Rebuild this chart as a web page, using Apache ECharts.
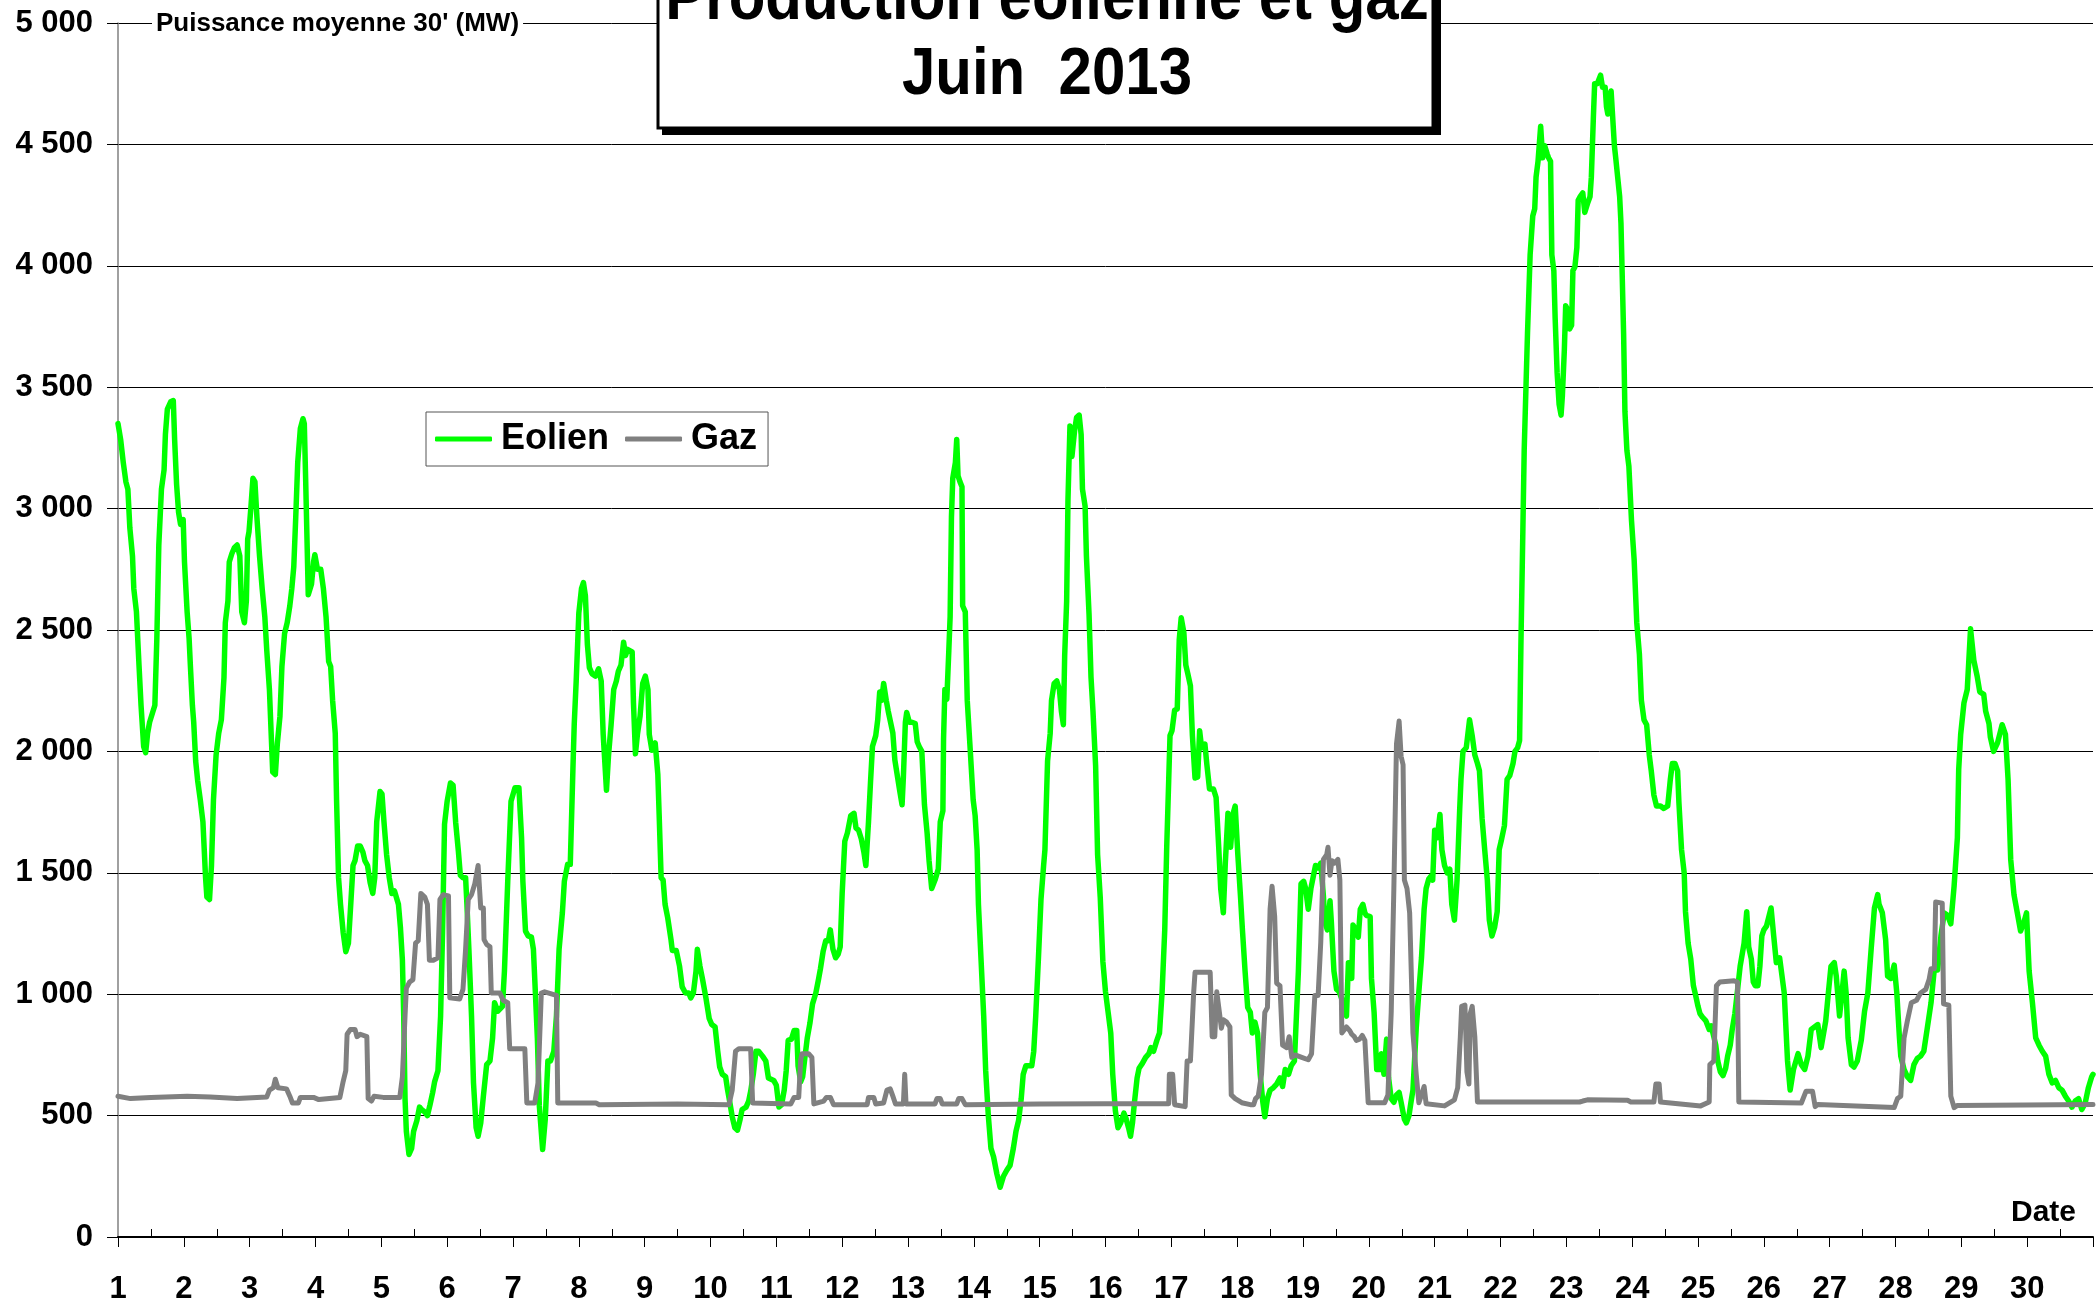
<!DOCTYPE html>
<html>
<head>
<meta charset="utf-8">
<script src="https://cdn.jsdelivr.net/npm/echarts@6/dist/echarts.min.js"></script>
<style>
html,body{margin:0;padding:0;background:#fff;}
#chart{width:2096px;height:1305px;}
</style>
</head>
<body>
<div id="chart"></div>
<script>
// ---- Data (day of month as decimal, MW) ----
const seriesNames = ['Eolien', 'Gaz'];
const dayTicks = [1,2,3,4,5,6,7,8,9,10,11,12,13,14,15,16,17,18,19,20,21,22,23,24,25,26,27,28,29,30];
const yTicks = [0,500,1000,1500,2000,2500,3000,3500,4000,4500,5000];

const eolien = [[1.0,3350],[1.04,3285],[1.08,3190],[1.12,3110],[1.15,3080],[1.18,2920],[1.22,2805],[1.24,2670],[1.28,2575],[1.32,2350],[1.35,2190],[1.39,2020],[1.42,1995],[1.45,2075],[1.48,2120],[1.52,2155],[1.56,2190],[1.59,2465],[1.62,2850],[1.66,3080],[1.70,3160],[1.72,3305],[1.75,3410],[1.80,3440],[1.84,3445],[1.86,3285],[1.89,3100],[1.92,2985],[1.95,2935],[1.99,2955],[2.01,2780],[2.05,2575],[2.08,2465],[2.10,2350],[2.13,2190],[2.15,2120],[2.18,1960],[2.21,1880],[2.25,1800],[2.29,1710],[2.33,1480],[2.35,1400],[2.39,1390],[2.42,1530],[2.45,1800],[2.49,1985],[2.53,2075],[2.57,2130],[2.61,2305],[2.63,2530],[2.67,2620],[2.69,2780],[2.73,2815],[2.77,2840],[2.81,2850],[2.85,2805],[2.88,2575],[2.92,2530],[2.95,2620],[2.97,2875],[2.99,2905],[3.02,3010],[3.05,3125],[3.08,3110],[3.11,2965],[3.15,2805],[3.19,2670],[3.23,2555],[3.26,2415],[3.30,2255],[3.33,2050],[3.35,1915],[3.39,1905],[3.42,2030],[3.46,2145],[3.49,2350],[3.53,2485],[3.57,2530],[3.61,2600],[3.64,2670],[3.67,2760],[3.70,2965],[3.73,3190],[3.77,3330],[3.81,3370],[3.83,3350],[3.85,3125],[3.89,2645],[3.94,2690],[3.97,2780],[3.99,2810],[4.03,2750],[4.08,2750],[4.12,2670],[4.16,2555],[4.20,2370],[4.23,2350],[4.26,2210],[4.30,2075],[4.32,1800],[4.35,1480],[4.38,1370],[4.42,1255],[4.46,1175],[4.50,1210],[4.53,1345],[4.57,1530],[4.60,1550],[4.64,1610],[4.68,1610],[4.72,1585],[4.75,1550],[4.79,1530],[4.83,1460],[4.87,1415],[4.90,1480],[4.93,1710],[4.98,1835],[5.01,1825],[5.04,1710],[5.08,1575],[5.12,1480],[5.16,1415],[5.20,1425],[5.23,1425],[5.26,1370],[5.29,1275],[5.32,1140],[5.34,910],[5.36,570],[5.38,435],[5.42,340],[5.46,365],[5.49,435],[5.54,480],[5.58,535],[5.61,525],[5.66,515],[5.70,500],[5.74,545],[5.78,595],[5.81,640],[5.86,685],[5.90,910],[5.93,1255],[5.96,1700],[6.0,1795],[6.05,1870],[6.09,1860],[6.13,1705],[6.17,1590],[6.20,1490],[6.24,1480],[6.28,1480],[6.30,1370],[6.33,1185],[6.37,910],[6.40,635],[6.44,450],[6.47,415],[6.51,470],[6.55,580],[6.60,710],[6.65,725],[6.69,820],[6.72,965],[6.77,930],[6.84,950],[6.87,1095],[6.92,1465],[6.97,1795],[7.03,1850],[7.09,1850],[7.13,1645],[7.15,1465],[7.19,1260],[7.23,1240],[7.28,1235],[7.31,1185],[7.34,1005],[7.37,820],[7.40,540],[7.45,360],[7.49,485],[7.53,725],[7.57,725],[7.62,765],[7.66,910],[7.70,1185],[7.75,1335],[7.78,1465],[7.83,1535],[7.87,1535],[7.91,1925],[7.93,2110],[7.96,2290],[8.0,2570],[8.04,2670],[8.07,2695],[8.10,2640],[8.13,2440],[8.16,2345],[8.20,2320],[8.25,2310],[8.30,2340],[8.34,2290],[8.37,2070],[8.42,1840],[8.45,1980],[8.49,2110],[8.53,2255],[8.57,2290],[8.60,2330],[8.64,2355],[8.68,2450],[8.71,2395],[8.74,2420],[8.81,2410],[8.83,2200],[8.86,1990],[8.89,2070],[8.93,2145],[8.97,2280],[9.01,2310],[9.05,2255],[9.07,2070],[9.11,2005],[9.16,2035],[9.20,1905],[9.22,1740],[9.25,1480],[9.28,1470],[9.31,1370],[9.35,1315],[9.40,1225],[9.42,1180],[9.48,1180],[9.53,1115],[9.57,1030],[9.62,1005],[9.67,1005],[9.70,985],[9.74,1005],[9.78,1095],[9.80,1185],[9.84,1115],[9.88,1060],[9.93,985],[9.98,900],[10.02,875],[10.07,865],[10.11,765],[10.14,700],[10.18,670],[10.23,660],[10.26,605],[10.29,560],[10.33,495],[10.37,450],[10.41,440],[10.45,485],[10.48,525],[10.54,535],[10.58,560],[10.61,600],[10.65,670],[10.69,765],[10.73,765],[10.79,745],[10.84,725],[10.88,655],[10.91,650],[10.96,645],[11.0,625],[11.04,535],[11.08,545],[11.12,605],[11.15,685],[11.18,810],[11.23,815],[11.27,850],[11.31,850],[11.33,705],[11.37,640],[11.40,660],[11.43,730],[11.47,820],[11.51,880],[11.55,960],[11.60,1005],[11.64,1060],[11.67,1105],[11.71,1175],[11.75,1220],[11.79,1220],[11.82,1265],[11.86,1185],[11.90,1150],[11.94,1165],[11.97,1195],[12.0,1415],[12.04,1630],[12.08,1665],[12.13,1735],[12.18,1745],[12.21,1685],[12.25,1675],[12.29,1640],[12.33,1585],[12.36,1530],[12.40,1710],[12.43,1870],[12.46,2020],[12.51,2065],[12.54,2130],[12.57,2245],[12.60,2210],[12.63,2280],[12.67,2210],[12.70,2165],[12.73,2165],[12.77,2075],[12.80,1965],[12.83,1960],[12.87,1845],[12.91,1780],[12.93,1895],[12.96,2120],[12.98,2160],[13.02,2120],[13.06,2120],[13.11,2115],[13.14,2040],[13.17,2020],[13.21,2000],[13.25,1780],[13.29,1665],[13.32,1550],[13.36,1435],[13.41,1470],[13.46,1515],[13.49,1710],[13.53,1755],[13.54,2050],[13.56,2255],[13.59,2215],[13.62,2415],[13.64,2555],[13.66,2965],[13.68,3125],[13.72,3190],[13.74,3285],[13.76,3135],[13.79,3110],[13.82,3090],[13.83,2600],[13.87,2575],[13.90,2210],[13.94,2030],[13.99,1800],[14.02,1735],[14.05,1595],[14.07,1370],[14.11,1140],[14.15,910],[14.18,685],[14.22,500],[14.26,365],[14.30,330],[14.35,260],[14.40,205],[14.45,250],[14.50,275],[14.55,295],[14.60,365],[14.64,435],[14.68,480],[14.72,570],[14.75,670],[14.79,705],[14.83,705],[14.88,705],[14.91,765],[14.94,910],[14.98,1140],[15.02,1390],[15.06,1530],[15.08,1595],[15.12,1960],[15.16,2075],[15.18,2210],[15.22,2280],[15.26,2290],[15.30,2255],[15.33,2165],[15.36,2110],[15.38,2395],[15.41,2620],[15.43,3035],[15.46,3340],[15.49,3215],[15.53,3320],[15.56,3375],[15.60,3385],[15.63,3305],[15.65,3080],[15.69,3010],[15.71,2805],[15.75,2565],[15.78,2305],[15.81,2165],[15.85,1940],[15.88,1575],[15.92,1400],[15.96,1135],[16.0,1010],[16.04,925],[16.08,840],[16.11,670],[16.15,520],[16.19,450],[16.23,470],[16.28,510],[16.31,490],[16.35,450],[16.38,415],[16.41,470],[16.44,555],[16.48,655],[16.51,695],[16.56,715],[16.61,740],[16.66,755],[16.69,780],[16.73,765],[16.78,810],[16.82,840],[16.86,1010],[16.90,1265],[16.93,1605],[16.96,1880],[16.98,2065],[17.01,2085],[17.05,2170],[17.09,2175],[17.12,2460],[17.15,2550],[17.19,2490],[17.22,2355],[17.25,2320],[17.29,2270],[17.32,2065],[17.36,1890],[17.40,1895],[17.43,2085],[17.46,2015],[17.51,2030],[17.54,1945],[17.58,1845],[17.64,1845],[17.68,1810],[17.72,1605],[17.75,1435],[17.79,1335],[17.82,1540],[17.86,1745],[17.90,1605],[17.94,1745],[17.97,1775],[18.01,1575],[18.05,1405],[18.08,1265],[18.12,1095],[18.16,945],[18.20,925],[18.23,840],[18.27,885],[18.31,840],[18.35,670],[18.39,555],[18.42,495],[18.46,570],[18.50,605],[18.55,615],[18.60,630],[18.65,655],[18.69,620],[18.73,690],[18.78,670],[18.82,705],[18.87,725],[18.90,910],[18.93,1095],[18.97,1455],[19.01,1465],[19.04,1435],[19.08,1350],[19.12,1435],[19.16,1490],[19.19,1530],[19.23,1520],[19.27,1540],[19.31,1405],[19.33,1300],[19.37,1265],[19.41,1385],[19.43,1300],[19.47,1095],[19.51,1020],[19.55,1010],[19.59,980],[19.63,925],[19.66,910],[19.69,1130],[19.72,1130],[19.74,1065],[19.76,1285],[19.80,1265],[19.84,1235],[19.87,1350],[19.91,1370],[19.94,1335],[19.96,1325],[20.02,1320],[20.04,1065],[20.08,925],[20.12,690],[20.17,690],[20.19,755],[20.23,670],[20.27,815],[20.30,655],[20.34,570],[20.38,555],[20.42,585],[20.46,595],[20.49,555],[20.54,485],[20.57,470],[20.61,500],[20.64,555],[20.67,605],[20.70,755],[20.72,860],[20.76,1010],[20.80,1150],[20.84,1350],[20.87,1435],[20.91,1475],[20.94,1485],[20.97,1470],[21.0,1675],[21.04,1645],[21.08,1740],[21.11,1595],[21.15,1530],[21.19,1500],[21.23,1515],[21.26,1370],[21.30,1305],[21.34,1470],[21.38,1760],[21.40,1885],[21.43,2000],[21.48,2015],[21.53,2130],[21.57,2065],[21.61,1985],[21.65,1950],[21.68,1920],[21.72,1725],[21.76,1595],[21.80,1470],[21.83,1305],[21.87,1240],[21.91,1275],[21.95,1340],[21.98,1595],[22.01,1630],[22.06,1695],[22.10,1885],[22.14,1900],[22.19,1950],[22.22,2000],[22.26,2015],[22.29,2045],[22.31,2435],[22.34,2915],[22.36,3240],[22.39,3530],[22.41,3720],[22.45,4045],[22.49,4205],[22.52,4235],[22.54,4365],[22.57,4430],[22.61,4575],[22.64,4445],[22.67,4495],[22.71,4460],[22.73,4445],[22.76,4430],[22.78,4045],[22.81,3980],[22.83,3785],[22.86,3560],[22.89,3430],[22.92,3385],[22.94,3465],[22.97,3655],[22.99,3835],[23.02,3820],[23.05,3740],[23.08,3755],[23.10,3980],[23.13,3995],[23.16,4075],[23.18,4270],[23.21,4285],[23.25,4300],[23.28,4220],[23.32,4255],[23.36,4285],[23.38,4365],[23.41,4605],[23.43,4750],[23.47,4750],[23.52,4785],[23.55,4735],[23.59,4735],[23.61,4655],[23.63,4625],[23.65,4690],[23.68,4720],[23.71,4725],[23.73,4495],[23.75,4445],[23.78,4365],[23.81,4285],[23.83,4175],[23.85,4175],[23.87,3720],[23.89,3400],[23.92,3240],[23.95,3175],[23.99,2950],[24.03,2790],[24.07,2530],[24.11,2400],[24.14,2210],[24.18,2130],[24.22,2110],[24.26,1985],[24.29,1920],[24.33,1820],[24.37,1775],[24.43,1775],[24.48,1765],[24.54,1775],[24.58,1885],[24.61,1950],[24.65,1950],[24.69,1920],[24.71,1790],[24.75,1595],[24.79,1500],[24.81,1340],[24.85,1210],[24.89,1145],[24.93,1035],[24.96,1000],[25.0,950],[25.03,920],[25.07,905],[25.12,890],[25.17,855],[25.20,870],[25.24,825],[25.27,790],[25.30,725],[25.34,680],[25.38,665],[25.42,695],[25.45,745],[25.49,790],[25.52,855],[25.56,920],[25.60,1015],[25.64,1115],[25.67,1115],[25.70,1210],[25.74,1340],[25.77,1195],[25.81,1145],[25.84,1050],[25.87,1035],[25.91,1035],[25.94,1115],[25.97,1240],[26.0,1265],[26.04,1280],[26.11,1355],[26.15,1240],[26.19,1130],[26.24,1150],[26.27,1150],[26.31,1005],[26.36,725],[26.40,605],[26.45,690],[26.52,755],[26.57,710],[26.62,690],[26.67,745],[26.72,855],[26.77,865],[26.82,875],[26.87,780],[26.90,775],[26.94,890],[26.98,1005],[27.02,1115],[27.07,1130],[27.10,1075],[27.15,910],[27.18,985],[27.22,1095],[27.25,1005],[27.28,820],[27.33,710],[27.37,700],[27.42,725],[27.48,810],[27.53,930],[27.58,1005],[27.63,1185],[27.68,1355],[27.73,1410],[27.75,1370],[27.80,1335],[27.85,1225],[27.88,1075],[27.93,1065],[27.98,1120],[28.02,1005],[28.06,820],[28.08,745],[28.13,690],[28.18,660],[28.23,645],[28.28,710],[28.33,735],[28.38,745],[28.43,765],[28.48,855],[28.54,965],[28.59,1105],[28.64,1100],[28.69,1240],[28.74,1335],[28.79,1325],[28.84,1290],[28.89,1445],[28.94,1645],[28.96,1925],[28.99,2070],[29.04,2200],[29.09,2255],[29.14,2505],[29.19,2375],[29.24,2310],[29.28,2245],[29.34,2235],[29.37,2165],[29.42,2115],[29.44,2060],[29.49,2000],[29.55,2035],[29.62,2110],[29.67,2070],[29.71,1885],[29.75,1555],[29.80,1410],[29.85,1335],[29.90,1260],[29.95,1295],[29.99,1335],[30.03,1095],[30.08,965],[30.13,820],[30.18,790],[30.23,765],[30.28,745],[30.33,670],[30.38,635],[30.43,645],[30.48,615],[30.53,605],[30.58,580],[30.63,560],[30.68,535],[30.73,560],[30.78,570],[30.83,525],[30.88,550],[30.93,615],[30.98,660],[31.0,670]];

const gaz = [[1.0,580],[1.19,570],[1.5,575],[2.05,580],[2.4,577],[2.81,570],[3.26,577],[3.30,605],[3.36,615],[3.39,650],[3.43,615],[3.56,610],[3.61,580],[3.65,552],[3.74,552],[3.77,575],[3.97,575],[4.05,566],[4.37,575],[4.42,640],[4.46,685],[4.48,835],[4.53,855],[4.60,855],[4.63,825],[4.68,835],[4.78,825],[4.80,570],[4.85,560],[4.89,580],[5.03,575],[5.28,575],[5.32,660],[5.36,910],[5.38,1025],[5.43,1050],[5.48,1060],[5.52,1210],[5.56,1220],[5.60,1415],[5.66,1400],[5.70,1370],[5.73,1140],[5.79,1140],[5.86,1150],[5.89,1390],[5.94,1410],[6.02,1405],[6.04,985],[6.19,980],[6.24,1020],[6.28,1185],[6.32,1390],[6.37,1410],[6.42,1455],[6.47,1530],[6.51,1355],[6.55,1355],[6.56,1225],[6.60,1205],[6.65,1195],[6.67,1005],[6.80,1005],[6.85,975],[6.92,965],[6.95,775],[7.18,775],[7.21,552],[7.33,552],[7.38,635],[7.43,1005],[7.48,1010],[7.66,995],[7.68,552],[8.26,552],[8.31,545],[9.5,548],[10.28,545],[10.33,605],[10.38,765],[10.43,775],[10.61,775],[10.64,552],[11.22,548],[11.27,575],[11.34,575],[11.37,730],[11.39,755],[11.49,755],[11.54,740],[11.57,548],[11.72,560],[11.76,575],[11.82,575],[11.87,545],[12.38,545],[12.40,575],[12.48,575],[12.51,548],[12.63,552],[12.68,605],[12.73,610],[12.77,580],[12.81,548],[12.93,548],[12.95,670],[12.97,548],[13.41,548],[13.44,570],[13.49,570],[13.52,548],[13.74,548],[13.77,570],[13.82,570],[13.87,545],[15.0,548],[16.0,549],[16.96,549],[16.97,670],[17.02,670],[17.05,545],[17.21,537],[17.24,725],[17.29,725],[17.32,895],[17.34,1010],[17.36,1090],[17.59,1090],[17.62,825],[17.66,825],[17.69,1010],[17.73,925],[17.76,860],[17.79,895],[17.84,885],[17.89,865],[17.91,585],[17.97,570],[18.07,553],[18.20,545],[18.25,545],[18.28,570],[18.32,580],[18.37,670],[18.42,925],[18.46,945],[18.50,1350],[18.53,1445],[18.57,1320],[18.60,1045],[18.65,1035],[18.69,790],[18.75,780],[18.79,825],[18.83,740],[18.88,750],[18.98,740],[19.08,730],[19.13,755],[19.18,995],[19.23,995],[19.27,1215],[19.31,1555],[19.36,1575],[19.38,1605],[19.41,1490],[19.44,1550],[19.48,1540],[19.53,1555],[19.56,1470],[19.59,840],[19.66,865],[19.71,850],[19.74,835],[19.78,825],[19.81,810],[19.86,815],[19.90,830],[19.94,810],[19.99,553],[20.24,553],[20.29,585],[20.34,925],[20.38,1435],[20.42,2030],[20.46,2125],[20.49,1980],[20.52,1945],[20.54,1470],[20.58,1435],[20.62,1335],[20.67,840],[20.72,670],[20.76,553],[20.80,585],[20.84,620],[20.87,549],[21.15,540],[21.30,565],[21.35,615],[21.39,825],[21.41,950],[21.46,955],[21.49,680],[21.52,630],[21.54,920],[21.57,950],[21.61,825],[21.65,556],[23.20,556],[23.25,560],[23.32,565],[23.93,563],[23.98,556],[24.33,556],[24.36,630],[24.41,630],[24.43,556],[25.04,540],[25.17,556],[25.18,710],[25.24,725],[25.28,1035],[25.33,1050],[25.55,1055],[25.60,1050],[25.62,556],[26.57,552],[26.64,600],[26.67,605],[26.74,600],[26.78,537],[26.82,546],[27.98,533],[28.03,570],[28.08,580],[28.13,820],[28.18,890],[28.24,965],[28.32,975],[28.38,1005],[28.46,1020],[28.51,1060],[28.54,1105],[28.59,1105],[28.61,1380],[28.71,1375],[28.73,960],[28.81,955],[28.84,580],[28.89,533],[28.94,542],[31.0,546]];

const FONT = '"Liberation Sans", Arial, sans-serif';
const fmtThousands = v => String(v).replace(/\B(?=(\d{3})+(?!\d))/g, ' ');

const chart = echarts.init(document.getElementById('chart'), null, {renderer: 'canvas'});
chart.setOption({
  animation: false,
  backgroundColor: '#ffffff',
  textStyle: {fontFamily: FONT},
  grid: {left: 118, right: 0, top: 23, bottom: 66},
  legend: {
    data: seriesNames,
    left: 426, top: 412,
    padding: [9, 11, 9, 9],
    itemGap: 16, itemWidth: 57, itemHeight: 5,
    icon: 'roundRect',
    borderColor: '#555', borderWidth: 1, backgroundColor: '#fff',
    textStyle: {fontSize: 36, fontWeight: 'bold', color: '#000', fontFamily: FONT, lineHeight: 36, padding: [0, 0, 0, 4]}
  },
  xAxis: [{
    type: 'value', min: dayTicks[0], max: 31, interval: 1, position: 'bottom',
    axisLine: {show: true, onZero: false, lineStyle: {color: '#000', width: 2}},
    axisTick: {show: true, length: 10, lineStyle: {color: '#000', width: 1}},
    axisLabel: {margin: 37, fontSize: 31, fontWeight: 'bold', color: '#000', fontFamily: FONT,
      formatter: v => dayTicks.indexOf(v) >= 0 ? String(v) : ''},
    splitLine: {show: false}
  }, {
    type: 'value', min: dayTicks[0], max: 31, interval: 1, position: 'bottom', gridIndex: 0,
    axisLine: {show: false}, axisLabel: {show: false},
    axisTick: {show: false, inside: true},
    minorTick: {show: true, splitNumber: 2, length: 8, lineStyle: {color: '#000', width: 1}},
    splitLine: {show: false}
  }],
  yAxis: {
    type: 'value', min: yTicks[0], max: yTicks[yTicks.length - 1], interval: 500,
    axisLine: {show: true, lineStyle: {color: '#808080', width: 1.5}},
    axisTick: {show: true, length: 11, lineStyle: {color: '#000', width: 1}},
    axisLabel: {margin: 25, fontSize: 31, fontWeight: 'bold', color: '#000', fontFamily: FONT, formatter: fmtThousands},
    splitLine: {show: true, lineStyle: {color: '#000', width: 1}}
  },
  series: [{
    name: seriesNames[0], type: 'line', data: eolien, xAxisIndex: 0,
    symbol: 'none', showSymbol: false, smooth: false,
    lineStyle: {color: '#00FF00', width: 5.5, cap: 'round', join: 'round'},
    itemStyle: {color: '#00FF00'}, z: 2
  }, {
    name: seriesNames[1], type: 'line', data: gaz, xAxisIndex: 0,
    symbol: 'none', showSymbol: false, smooth: false,
    lineStyle: {color: '#808080', width: 5, cap: 'round', join: 'round'},
    itemStyle: {color: '#808080'}, z: 3
  }],
  graphic: [
    {type: 'rect', z: 100, shape: {x: 662, y: -20, width: 779, height: 155}, style: {fill: '#000'}},
    {type: 'rect', z: 101, shape: {x: 658, y: -20, width: 775, height: 148}, style: {fill: '#fff', stroke: '#000', lineWidth: 3}},
    {type: 'text', z: 102, x: 1047, y: 0, scaleY: 1.12, style: {text: 'Production éolienne et gaz', textAlign: 'center', verticalAlign: 'middle', font: 'bold 60px ' + FONT, fill: '#000'}},
    {type: 'text', z: 102, x: 1047, y: 75, scaleY: 1.12, style: {text: 'Juin  2013', textAlign: 'center', verticalAlign: 'middle', font: 'bold 60px ' + FONT, fill: '#000'}},
    {type: 'text', z: 102, x: 152, y: 24, style: {text: "Puissance moyenne 30' (MW)", textAlign: 'left', verticalAlign: 'middle', font: 'bold 26px ' + FONT, fill: '#000', backgroundColor: '#fff', padding: [2, 4]}},
    {type: 'text', z: 102, x: 2011, y: 1213, style: {text: 'Date', textAlign: 'left', verticalAlign: 'middle', font: 'bold 30px ' + FONT, fill: '#000'}}
  ]
});
</script>
</body>
</html>
